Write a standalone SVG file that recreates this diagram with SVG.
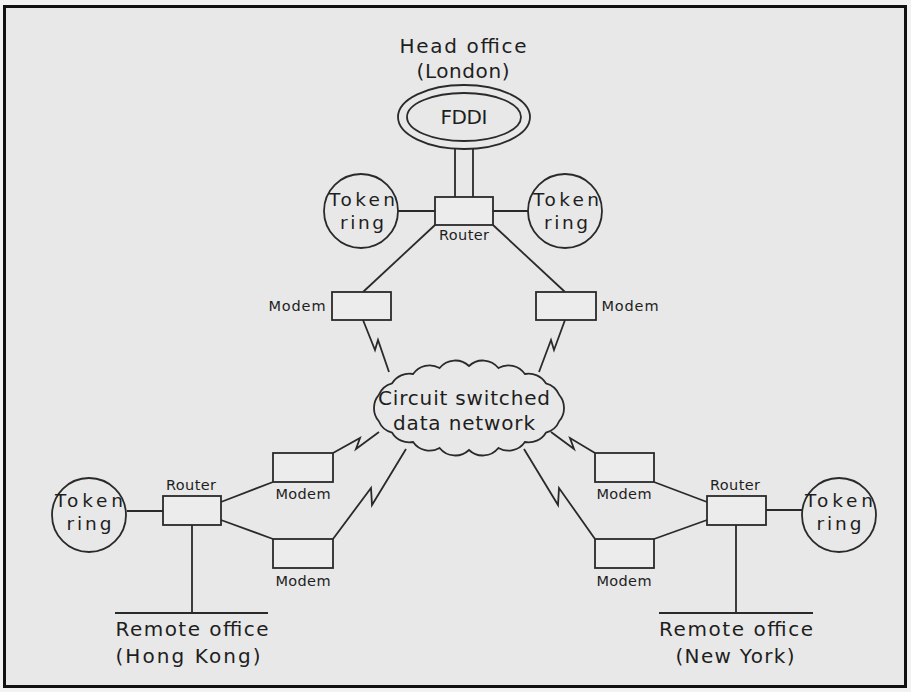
<svg xmlns="http://www.w3.org/2000/svg" width="911" height="692" viewBox="0 0 911 692">
<defs>
<style>
.ln{fill:none;stroke:#2a2a2a;stroke-width:1.8;stroke-linejoin:miter}
.bx{fill:#ececec;stroke:#2a2a2a;stroke-width:1.8}
.t{font-family:"DejaVu Sans","Liberation Sans",sans-serif;fill:#1e1e1e;text-anchor:middle}
.big{font-size:20px}
.tr{font-size:18.5px}
.sm{font-size:14.5px}
</style>
</defs>
<rect x="0" y="0" width="911" height="692" fill="#f2f2f2"/>
<rect x="4.5" y="6.5" width="901" height="680" fill="#e8e8e8" stroke="#111" stroke-width="3"/>

<g id="connectors">
<line class="ln" x1="455" y1="149" x2="455" y2="197"/>
<line class="ln" x1="473" y1="149" x2="473" y2="197"/>
<line class="ln" x1="398" y1="211" x2="435" y2="211"/>
<line class="ln" x1="493" y1="211" x2="528" y2="211"/>
<line class="ln" x1="435" y1="225" x2="363" y2="292"/>
<line class="ln" x1="493" y1="225" x2="565" y2="292"/>
<polyline class="ln" points="363,320 375,350 378,340 389,372"/>
<polyline class="ln" points="565,320 554,350 551,340 539,372"/>
<polyline class="ln" points="333,453 360,438 356,449 379,432"/>
<polyline class="ln" points="333,539 371,488 372,505 406,449"/>
<polyline class="ln" points="595,453 570,438 574,449 551,432"/>
<polyline class="ln" points="595,539 559,488 558,505 524,449"/>
<line class="ln" x1="127" y1="511" x2="163" y2="511"/>
<line class="ln" x1="221" y1="502" x2="273" y2="482"/>
<line class="ln" x1="221" y1="520" x2="273" y2="539"/>
<line class="ln" x1="192" y1="525" x2="192" y2="613"/>
<line class="ln" x1="115" y1="613" x2="268" y2="613"/>
<line class="ln" x1="654" y1="482" x2="707" y2="502"/>
<line class="ln" x1="654" y1="539" x2="707" y2="520"/>
<line class="ln" x1="766" y1="510" x2="802" y2="510"/>
<line class="ln" x1="736" y1="525" x2="736" y2="613"/>
<line class="ln" x1="659" y1="613" x2="813" y2="613"/>
</g>

<g id="head-office">
<text class="t big" x="463" y="53" textLength="127" lengthAdjust="spacing">Head office</text>
<text class="t big" x="463" y="78" textLength="93" lengthAdjust="spacing">(London)</text>
</g>
<g id="fddi">
<ellipse cx="464" cy="117" rx="66" ry="32" class="ln"/>
<ellipse cx="464" cy="117" rx="57" ry="24" class="ln"/>
<text class="t big" x="464" y="124" textLength="47" lengthAdjust="spacing">FDDI</text>
</g>
<g id="router-london">
<rect class="bx" x="435" y="197" width="58" height="28"/>
<text class="t sm" x="464" y="240" textLength="50" lengthAdjust="spacing">Router</text>
</g>
<g id="token-ring-london-left">
<circle class="ln" cx="361" cy="211" r="37"/>
<text class="t tr" x="362" y="206" textLength="66" lengthAdjust="spacing">Token</text>
<text class="t tr" x="362" y="229" textLength="44" lengthAdjust="spacing">ring</text>
</g>
<g id="token-ring-london-right">
<circle class="ln" cx="565" cy="211" r="37"/>
<text class="t tr" x="566" y="206" textLength="66" lengthAdjust="spacing">Token</text>
<text class="t tr" x="566" y="229" textLength="44" lengthAdjust="spacing">ring</text>
</g>
<g id="modem-london-left">
<rect class="bx" x="332" y="292" width="59" height="28"/>
<text class="t sm" x="297" y="311" textLength="57" lengthAdjust="spacing">Modem</text>
</g>
<g id="modem-london-right">
<rect class="bx" x="536" y="292" width="60" height="28"/>
<text class="t sm" x="630" y="311" textLength="57" lengthAdjust="spacing">Modem</text>
</g>

<g id="network-cloud">
<path class="ln" fill="#e8e8e8" d="M564,408 A20,20 0 0 1 559.3,421 A20,20 0 0 1 545.9,432.7 A20,20 0 0 1 524.9,442 A20,20 0 0 1 498.4,448 A20,20 0 0 1 469,450 A20,20 0 0 1 439.6,448 A20,20 0 0 1 413.1,442 A20,20 0 0 1 392.1,432.7 A20,20 0 0 1 378.7,421 A20,20 0 0 1 374,408 A20,20 0 0 1 378.7,395 A20,20 0 0 1 392.1,383.3 A20,20 0 0 1 413.1,374 A20,20 0 0 1 439.6,368 A20,20 0 0 1 469,366 A20,20 0 0 1 498.4,368 A20,20 0 0 1 524.9,374 A20,20 0 0 1 545.9,383.3 A20,20 0 0 1 559.3,395 A20,20 0 0 1 564,408 Z"/>
<text class="t" font-size="20" x="464" y="405" textLength="172" lengthAdjust="spacing">Circuit switched</text>
<text class="t" font-size="20" x="464" y="430" textLength="142" lengthAdjust="spacing">data network</text>
</g>

<g id="token-ring-hong-kong">
<circle class="ln" cx="89" cy="515" r="37"/>
<text class="t tr" x="89" y="507" textLength="68" lengthAdjust="spacing">Token</text>
<text class="t tr" x="89" y="530" textLength="45" lengthAdjust="spacing">ring</text>
</g>
<g id="router-hong-kong">
<rect class="bx" x="163" y="496" width="58" height="29"/>
<text class="t sm" x="191" y="490" textLength="50" lengthAdjust="spacing">Router</text>
</g>
<g id="modem-hong-kong-upper">
<rect class="bx" x="273" y="453" width="60" height="29"/>
<text class="t sm" x="303" y="499" textLength="55" lengthAdjust="spacing">Modem</text>
</g>
<g id="modem-hong-kong-lower">
<rect class="bx" x="273" y="539" width="60" height="29"/>
<text class="t sm" x="303" y="586" textLength="55" lengthAdjust="spacing">Modem</text>
</g>
<g id="remote-office-hong-kong">
<text class="t big" x="192" y="636" textLength="153" lengthAdjust="spacing">Remote office</text>
<text class="t big" x="188" y="663" textLength="145" lengthAdjust="spacing">(Hong Kong)</text>
</g>

<g id="token-ring-new-york">
<circle class="ln" cx="839" cy="515" r="37"/>
<text class="t tr" x="839" y="507" textLength="68" lengthAdjust="spacing">Token</text>
<text class="t tr" x="839" y="530" textLength="45" lengthAdjust="spacing">ring</text>
</g>
<g id="router-new-york">
<rect class="bx" x="707" y="496" width="59" height="29"/>
<text class="t sm" x="735" y="490" textLength="50" lengthAdjust="spacing">Router</text>
</g>
<g id="modem-new-york-upper">
<rect class="bx" x="595" y="453" width="59" height="29"/>
<text class="t sm" x="624" y="499" textLength="55" lengthAdjust="spacing">Modem</text>
</g>
<g id="modem-new-york-lower">
<rect class="bx" x="595" y="539" width="59" height="29"/>
<text class="t sm" x="624" y="586" textLength="55" lengthAdjust="spacing">Modem</text>
</g>
<g id="remote-office-new-york">
<text class="t big" x="736" y="636" textLength="154" lengthAdjust="spacing">Remote office</text>
<text class="t big" x="735" y="663" textLength="119" lengthAdjust="spacing">(New York)</text>
</g>
</svg>
